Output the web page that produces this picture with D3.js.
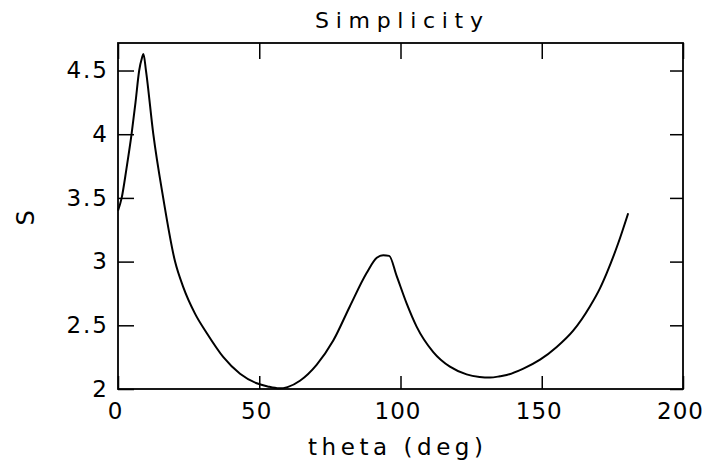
<!DOCTYPE html>
<html>
<head>
<meta charset="utf-8">
<script src="https://cdn.jsdelivr.net/npm/d3@7"></script>
<style>
  body { margin: 0; background: white; }
  text { font-family: "DejaVu Sans", sans-serif; fill: black; }
</style>
</head>
<body>
<div id="container"></div>
<script>
// values
let theta = [0, 1.3, 3, 4.8, 6.2, 7.5, 8.5, 9, 9.9, 12.5, 16, 20.2, 23.1, 27.3, 31.4, 37.3, 43.2, 49.1, 53, 57, 60, 64.4, 70.3, 76.2, 82.1, 88, 91.6, 93.9, 96, 98.6, 102.2, 105.7, 111.6, 117.5, 123.4, 128, 131.7, 135.2, 137.6, 143.5, 149.4, 155.3, 161.2, 167.1, 170.6, 173, 177, 180.6];
let sVals = [3.40, 3.50, 3.73, 4.00, 4.25, 4.50, 4.60, 4.63, 4.50, 4.00, 3.50, 3.00, 2.80, 2.59, 2.44, 2.25, 2.12, 2.045, 2.02, 2.005, 2.015, 2.065, 2.19, 2.38, 2.65, 2.91, 3.03, 3.05, 3.045, 2.89, 2.67, 2.49, 2.29, 2.175, 2.115, 2.095, 2.09, 2.10, 2.11, 2.16, 2.23, 2.33, 2.46, 2.65, 2.79, 2.91, 3.14, 3.38];

let xTicks = [0, 50, 100, 150, 200];
let yTicks = [2, 2.5, 3, 3.5, 4, 4.5];

let w = 707;
let h = 463;
let plotLeft = 118;
let plotRight = 683;
let plotTop = 43;
let plotBottom = 389;

let viz = d3.select("#container")
  .append("svg")
    .attr("width", w)
    .attr("height", h)
    .style("background-color", "white")
;

let xScale = d3.scaleLinear().domain([0, 200]).range([plotLeft, plotRight]);
let yScale = d3.scaleLinear().domain([2, 4.716]).range([plotBottom, plotTop]);

// the four axes, ticks all point inwards
let xAxisBottom = viz.append("g")
  .attr("transform", "translate(0," + plotBottom + ")")
  .call(d3.axisBottom(xScale).tickValues(xTicks).tickSize(-13).tickPadding(14).tickFormat(d3.format("")))
;
xAxisBottom.selectAll("text")
  .attr("font-size", 23)
  .attr("dx", -3)
  .attr("letter-spacing", 1)
;

let xAxisTop = viz.append("g")
  .attr("transform", "translate(0," + plotTop + ")")
  .call(d3.axisTop(xScale).tickValues(xTicks).tickSize(-16).tickFormat(""))
;

let yAxisLeft = viz.append("g")
  .attr("transform", "translate(" + plotLeft + ",0)")
  .call(d3.axisLeft(yScale).tickValues(yTicks).tickSize(-16).tickPadding(9).tickFormat(d3.format("")))
;
yAxisLeft.selectAll("text")
  .attr("font-size", 23)
  .attr("letter-spacing", 2)
;

let yAxisRight = viz.append("g")
  .attr("transform", "translate(" + plotRight + ",0)")
  .call(d3.axisRight(yScale).tickValues(yTicks).tickSize(-13).tickFormat(""))
;

viz.selectAll(".domain").remove();
viz.selectAll(".tick line")
  .attr("stroke", "black")
  .attr("stroke-width", 1.5)
;
viz.selectAll(".tick text").attr("font-family", "DejaVu Sans, sans-serif");

// frame
viz.append("rect")
  .attr("x", plotLeft)
  .attr("y", plotTop)
  .attr("width", plotRight - plotLeft)
  .attr("height", plotBottom - plotTop)
  .attr("fill", "none")
  .attr("stroke", "black")
  .attr("stroke-width", 1.8)
;

// the curve
let points = theta.map(function(d, i){
  return {t: d, s: sVals[i]};
});

let line = d3.line()
  .x(function(d){ return xScale(d.t); })
  .y(function(d){ return yScale(d.s); })
  .curve(d3.curveMonotoneX)
;

viz.append("path")
  .datum(points)
  .attr("d", line)
  .attr("fill", "none")
  .attr("stroke", "black")
  .attr("stroke-width", 2)
  .attr("stroke-linejoin", "round")
;

// labels
viz.append("text")
  .text("Simplicity")
  .attr("x", 315)
  .attr("y", 28)
  .attr("font-size", 22)
  .attr("textLength", 168)
  .attr("lengthAdjust", "spacing")
;

viz.append("text")
  .text("theta (deg)")
  .attr("x", 308)
  .attr("y", 455)
  .attr("font-size", 23)
  .attr("textLength", 175)
  .attr("lengthAdjust", "spacing")
;

viz.append("text")
  .text("S")
  .attr("transform", "translate(34, 218) rotate(-90)")
  .attr("text-anchor", "middle")
  .attr("font-size", 24)
;
</script>
</body>
</html>
